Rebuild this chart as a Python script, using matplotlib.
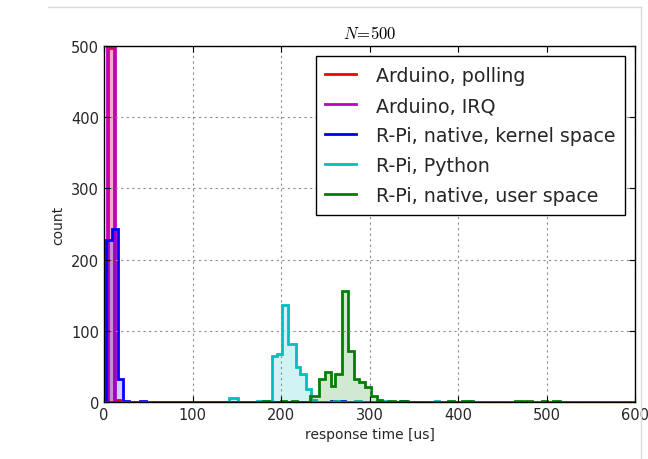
import numpy as np
import matplotlib
matplotlib.use("Agg")
import matplotlib.pyplot as plt

labels = ["Arduino, polling", "Arduino, IRQ", "R-Pi, native, kernel space",
          "R-Pi, Python", "R-Pi, native, user space"]
colors = ["r", "m", "b", "c", "g"]

# per-series histogram bin edges and counts (response time in us)
red_edges = [5, 11, 13, 18]
red_counts = [497, 0, 3]

magenta_edges = [3, 12]
magenta_counts = [500]

blue_edges = [2.5, 9, 15.5, 22, 28.5, 41, 47, 257, 261, 268, 272, 336, 341]
blue_counts = [227, 243, 32, 2, 0, 2, 0, 1, 0, 1, 0, 1]

cyan_edges = [141, 151, 173, 190, 196, 201.5, 208, 216.5, 222, 228, 233.5, 239,
              260, 266, 284, 290, 312, 317, 374, 379, 410, 415]
cyan_counts = [5, 0, 2, 65, 67, 136, 81, 49, 39, 18, 3, 0,
               1, 0, 1, 0, 1, 0, 1, 0, 1]

green_edges = [0, 180, 186, 200, 206, 212, 218, 233, 243, 250, 256, 261, 268.5,
               276, 282, 288, 295, 301.5, 308, 314, 321, 329, 335, 343, 389,
               395, 405, 417, 464, 473, 477, 484, 495, 500, 507, 515, 600]
green_counts = [0, 1, 0, 1, 0, 1, 0, 9, 32, 42, 22, 40, 156,
                72, 32, 28, 21, 9, 3, 0, 2, 0, 2, 0, 2,
                0, 2, 0, 2, 0, 2, 0, 2, 0, 2, 0]

series = [(red_edges, red_counts), (magenta_edges, magenta_counts),
          (blue_edges, blue_counts), (cyan_edges, cyan_counts),
          (green_edges, green_counts)]

plt.rcParams["mathtext.fontset"] = "cm"
fig = plt.figure(figsize=(6.48, 4.6), dpi=100)
ax = fig.add_axes([0.1605, 0.1239, 0.8195, 0.7739])

for (edges, counts), col, lab in zip(series, colors, labels):
    ax.stairs(counts, edges, fill=True, color=col, alpha=0.18, baseline=0)
    ax.stairs(counts, edges, color=col, lw=2, label=lab, baseline=0)

ax.set_xlim(0, 600)
ax.set_ylim(0, 500)
ax.set_xticks([0, 100, 200, 300, 400, 500, 600])
ax.set_yticks([0, 100, 200, 300, 400, 500])
ax.grid(True, color="0.55", linestyle=(0, (2, 3)), lw=0.8)
ax.tick_params(direction="in", top=True, right=True, labelsize=10.5, length=4,
               labelcolor="0.15")
for s in ax.spines.values():
    s.set_linewidth(1.0)
ax.set_xlabel("response time [us]", fontsize=10, color="0.15")
ax.set_ylabel("count", fontsize=10, color="0.15")
ax.set_title(r"$N\!=\!500$", fontsize=12)

handles = [plt.Line2D([], [], color=c, lw=2) for c in colors]
leg = ax.legend(handles, labels, loc="upper right", fontsize=13.7,
                fancybox=False, framealpha=1, edgecolor="k",
                borderaxespad=0.55, borderpad=0.5, handlelength=1.6,
                handletextpad=1.05, labelspacing=0.58)
leg.get_frame().set_linewidth(1.0)
for t in leg.get_texts():
    t.set_color("0.15")

# screenshot frame lines
fig.add_artist(plt.Line2D([48 / 648, 641 / 648], [1 - 8 / 460, 1 - 8 / 460],
                          color="0.85", lw=1, transform=fig.transFigure))
fig.add_artist(plt.Line2D([641 / 648, 641 / 648], [0, 1 - 8 / 460],
                          color="0.85", lw=1, transform=fig.transFigure))

fig.savefig("out.png", dpi=100)
